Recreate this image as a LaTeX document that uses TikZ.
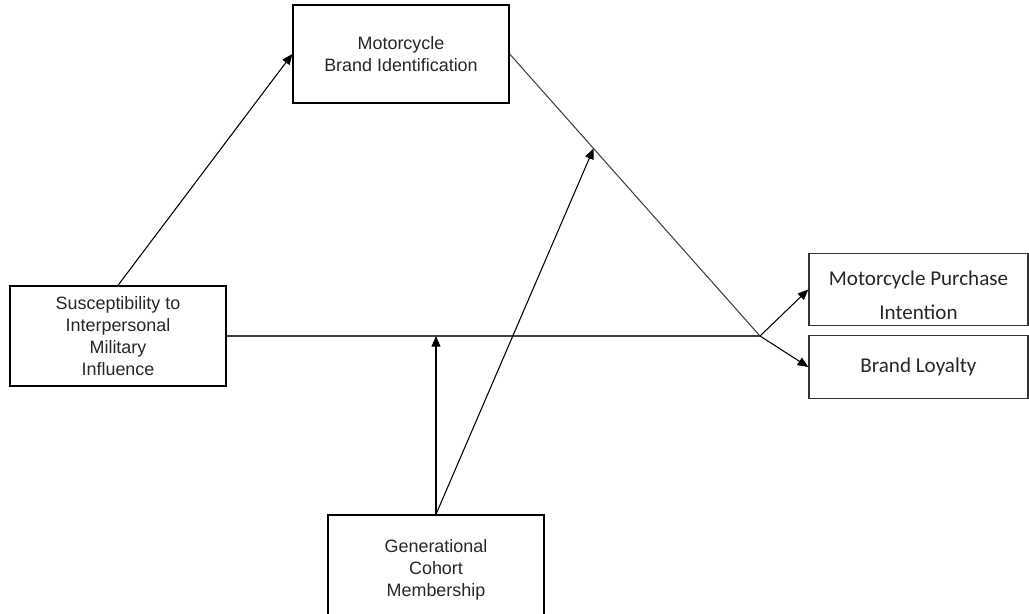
\documentclass[tikz,border=0pt]{standalone}
\usepackage{fontspec}
\setmainfont{Liberation Sans}
\newfontfamily\calibri{Carlito}
\usetikzlibrary{arrows.meta, calc}
\tikzstyle{construct} = [rectangle, minimum width=4.32cm, minimum height=2cm, text centered, align=center, draw=black, text=black!85, line width=0.8pt, font=\fontsize{10.2}{12.5}\selectfont]
\tikzstyle{outcome} = [rectangle, minimum width=4.38cm, minimum height=1.25cm, text centered, align=center, draw=black!80, text=black!85, line width=0.8pt, font=\calibri\fontsize{12}{19.5}\selectfont]

\begin{document}
\begin{tikzpicture}[x=0.02cm, y=-0.02cm, line width=0.6pt]
\useasboundingbox (0,0) rectangle (1029,613);
\node (mbi) [construct, minimum height=1.96cm] at (401,54) {Motorcycle\\Brand Identification};
\node (simi) [construct] at (118,336) {Susceptibility to\\Interpersonal\\Military\\Influence};
\node (mpi) [outcome] at (918.5,289.5) {\rule{0pt}{14.5pt}Motorcycle Purchase\\Intention};
\node (bl) [outcome] at (918.5,367) {Brand Loyalty};
\node (gcm) [construct, minimum height=2.2cm] at (436,570) {Generational\\Cohort\\Membership};
\coordinate (junc) at (760,336);
\coordinate (mod) at ($(mbi.east)!0.335!(junc)$);
\draw[-{Triangle[length=6pt, width=5pt]}] (simi.north) -- (mbi.west);
\draw[black!75] (mbi.east) -- (junc);
\draw[black!75] (simi.east) -- (junc);
\draw[-{Triangle[length=6pt, width=5pt]}] (junc) -- (mpi.west);
\draw[-{Triangle[length=6pt, width=5pt]}] (junc) -- (bl.west);
\draw[-{Triangle[length=6pt, width=5pt]}] (gcm.north) -- (gcm.north |- junc);
\draw[-{Triangle[length=6pt, width=5pt]}] (gcm.north) -- (mod);
\end{tikzpicture}
\end{document}
